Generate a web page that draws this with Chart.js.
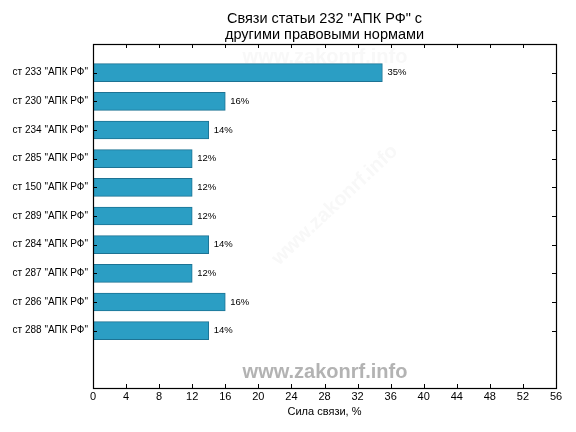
<!DOCTYPE html>
<html>
<head>
<meta charset="utf-8">
<script src="https://cdn.jsdelivr.net/npm/chart.js@4.4.0/dist/chart.umd.min.js"></script>
<style>
  html, body { margin: 0; padding: 0; background: #fff; }
  #wrap { width: 576px; height: 432px; }
</style>
</head>
<body>
<div id="wrap"><canvas id="chart" width="576" height="432"></canvas></div>
<script>
const titleLines = ['Связи статьи 232 "АПК РФ" с', 'другими правовыми нормами'];
const categories = [
  'ст 233 "АПК РФ"', 'ст 230 "АПК РФ"', 'ст 234 "АПК РФ"', 'ст 285 "АПК РФ"', 'ст 150 "АПК РФ"',
  'ст 289 "АПК РФ"', 'ст 284 "АПК РФ"', 'ст 287 "АПК РФ"', 'ст 286 "АПК РФ"', 'ст 288 "АПК РФ"'
];
const values = [35, 16, 14, 12, 12, 12, 14, 12, 16, 14];
const xTicks = [0, 4, 8, 12, 16, 20, 24, 28, 32, 36, 40, 44, 48, 52, 56];
const xTitle = 'Сила связи, %';
const watermark = 'www.zakonrf.info';

const FONT = "'Liberation Sans', Arial, sans-serif";

// рамка, внутренние засечки, подписи значений, заголовок, водяные знаки
const decor = {
  id: 'decor',
  beforeDatasetsDraw(chart) {
    const { ctx } = chart;
    ctx.save();
    ctx.fillStyle = '#f8f8f8';
    ctx.font = 'bold 20px ' + FONT;
    ctx.textAlign = 'center';
    ctx.textBaseline = 'middle';
    ctx.fillText(watermark, 325, 57);
    ctx.translate(335, 205);
    ctx.rotate(-43.5 * Math.PI / 180);
    ctx.fillText(watermark, 0, 0);
    ctx.restore();
  },
  afterDatasetsDraw(chart) {
    const { ctx, chartArea: a, scales } = chart;
    ctx.save();
    // засечки
    ctx.strokeStyle = '#000';
    ctx.lineWidth = 1;
    ctx.beginPath();
    xTicks.forEach(t => {
      const x = Math.round(scales.x.getPixelForValue(t)) + 0.5;
      ctx.moveTo(x, a.top); ctx.lineTo(x, a.top + 4);
      ctx.moveTo(x, a.bottom); ctx.lineTo(x, a.bottom - 4);
    });
    categories.forEach((c, i) => {
      const y = Math.round(scales.y.getPixelForValue(i + 1)) + 0.5;
      ctx.moveTo(a.left, y); ctx.lineTo(a.left + 4, y);
      ctx.moveTo(a.right, y); ctx.lineTo(a.right - 4, y);
    });
    ctx.stroke();
    // рамка
    ctx.lineWidth = 1.2;
    ctx.strokeRect(Math.round(a.left) + 0.5, Math.round(a.top) + 0.5,
      Math.round(a.right - a.left), Math.round(a.bottom - a.top));
    // подписи значений
    ctx.fillStyle = '#000';
    ctx.font = '9.5px ' + FONT;
    ctx.textAlign = 'left';
    ctx.textBaseline = 'middle';
    chart.getDatasetMeta(0).data.forEach((bar, i) => {
      ctx.fillText(values[i] + '%', bar.x + 5, bar.y);
    });
    // нижний водяной знак
    ctx.fillStyle = '#b3b3b3';
    ctx.font = 'bold 20px ' + FONT;
    ctx.textAlign = 'center';
    ctx.fillText(watermark, 325, 372);
    // заголовок
    ctx.fillStyle = '#000';
    ctx.font = '14.5px ' + FONT;
    const cx = (a.left + a.right) / 2;
    titleLines.forEach((l, i) => ctx.fillText(l, cx, 19 + i * 16));
    ctx.restore();
  }
};

new Chart(document.getElementById('chart'), {
  type: 'bar',
  data: {
    datasets: [{
      data: values.map((v, i) => ({ x: v, y: i + 1 })),
      backgroundColor: '#2b9ec4',
      borderColor: '#1d7394',
      borderWidth: 1,
      borderSkipped: false,
      barThickness: 18
    }]
  },
  plugins: [decor],
  options: {
    indexAxis: 'y',
    responsive: false,
    animation: false,
    layout: { padding: { top: 44, left: 0, right: 20, bottom: 0 } },
    plugins: { legend: { display: false }, title: { display: false }, tooltip: { enabled: false } },
    scales: {
      x: {
        type: 'linear',
        min: 0, max: 56,
        afterBuildTicks: s => { s.ticks = xTicks.map(v => ({ value: v })); },
        afterFit: s => { s.height = 44; },
        grid: { display: false, drawTicks: false },
        border: { display: false },
        ticks: { color: '#000', padding: 2, font: { family: FONT, size: 11 } },
        title: { display: true, text: xTitle, color: '#000', padding: { top: 0, bottom: 13 }, font: { family: FONT, size: 11 } }
      },
      y: {
        type: 'linear',
        min: 0, max: 12,
        reverse: true,
        offset: false,
        afterBuildTicks: s => { s.ticks = categories.map((c, i) => ({ value: i + 1 })); },
        afterFit: s => { s.width = 93; },
        grid: { display: false, drawTicks: false, offset: false },
        border: { display: false },
        ticks: {
          color: '#000', padding: 5, font: { family: FONT, size: 10 },
          callback: v => categories[v - 1]
        }
      }
    }
  }
});
</script>
</body>
</html>
